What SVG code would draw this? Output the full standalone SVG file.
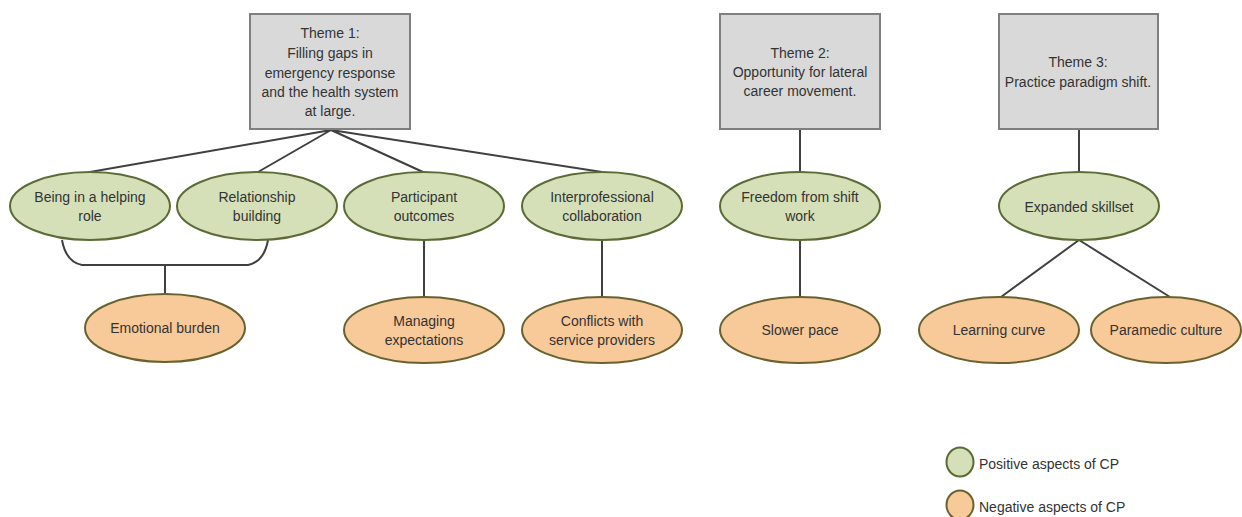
<svg xmlns="http://www.w3.org/2000/svg" width="1242" height="517" viewBox="0 0 1242 517">
<style>
.box{fill:#d9d9d9;stroke:#7f7f7f;stroke-width:2}
.pos{fill:#d5e0b9;stroke:#5b6b35;stroke-width:2}
.neg{fill:#f8c999;stroke:#67632f;stroke-width:2}
.ln{stroke:#404040;stroke-width:2;fill:none}
text{font-family:"Liberation Sans",Arial,sans-serif;font-size:14px;fill:#333;text-anchor:middle}
.lg{text-anchor:start}
</style>
<rect width="1242" height="517" fill="#fff"/>
<g id="connectors">
<path class="ln" d="M331 130L90 172M331 130L258 172M331 130L423 172M331 130L602 172"/>
<path class="ln" d="M62 240Q66 262 82 265L248 265Q264 262 268 240M165 265L165 293"/>
<path class="ln" d="M424 240L424 297M602 240L602 297"/>
<path class="ln" d="M800 129L800 172M800 240L800 297"/>
<path class="ln" d="M1079 129L1079 173M1079 240L1001 297M1079 240L1170 297"/>
</g>
<g id="theme1"><rect class="box" x="250" y="14" width="160" height="115"/>
<text x="330" y="38">Theme 1:</text><text x="330" y="58">Filling gaps in</text><text x="330" y="78">emergency response</text><text x="330" y="97">and the health system</text><text x="330" y="116">at large.</text></g>
<g id="theme2"><rect class="box" x="720" y="14" width="160" height="115"/>
<text x="800" y="58">Theme 2:</text><text x="800" y="77">Opportunity for lateral</text><text x="800" y="96">career movement.</text></g>
<g id="theme3"><rect class="box" x="999" y="14" width="159" height="115"/>
<text x="1078" y="67">Theme 3:</text><text x="1078" y="87">Practice paradigm shift.</text></g>
<g id="helping"><ellipse class="pos" cx="90" cy="206" rx="80" ry="34"/><text x="90" y="202">Being in a helping</text><text x="90" y="221">role</text></g>
<g id="relationship"><ellipse class="pos" cx="257" cy="206" rx="80" ry="34"/><text x="257" y="202">Relationship</text><text x="257" y="221">building</text></g>
<g id="participant"><ellipse class="pos" cx="424" cy="206" rx="80" ry="34"/><text x="424" y="202">Participant</text><text x="424" y="221">outcomes</text></g>
<g id="interprof"><ellipse class="pos" cx="602" cy="206" rx="80" ry="34"/><text x="602" y="202">Interprofessional</text><text x="602" y="221">collaboration</text></g>
<g id="freedom"><ellipse class="pos" cx="800" cy="206" rx="80" ry="34"/><text x="800" y="202">Freedom from shift</text><text x="800" y="221">work</text></g>
<g id="skillset"><ellipse class="pos" cx="1079" cy="206" rx="80" ry="34"/><text x="1079" y="212">Expanded skillset</text></g>
<g id="emotional"><ellipse class="neg" cx="165" cy="328" rx="80" ry="34"/><text x="165" y="333">Emotional burden</text></g>
<g id="managing"><ellipse class="neg" cx="424" cy="330" rx="80" ry="33"/><text x="424" y="326">Managing</text><text x="424" y="345">expectations</text></g>
<g id="conflicts"><ellipse class="neg" cx="602" cy="330" rx="80" ry="33"/><text x="602" y="326">Conflicts with</text><text x="602" y="345">service providers</text></g>
<g id="slower"><ellipse class="neg" cx="800" cy="330" rx="80" ry="33"/><text x="800" y="335">Slower pace</text></g>
<g id="learning"><ellipse class="neg" cx="999" cy="330" rx="80" ry="33"/><text x="999" y="335">Learning curve</text></g>
<g id="paramedic"><ellipse class="neg" cx="1166" cy="330" rx="75" ry="33"/><text x="1166" y="335">Paramedic culture</text></g>
<g id="legend">
<ellipse class="pos" cx="960" cy="462" rx="13.5" ry="14.5"/><text class="lg" x="979" y="469">Positive aspects of CP</text>
<ellipse class="neg" cx="960" cy="505" rx="13.5" ry="14.5"/><text class="lg" x="979" y="512">Negative aspects of CP</text>
</g>
</svg>
